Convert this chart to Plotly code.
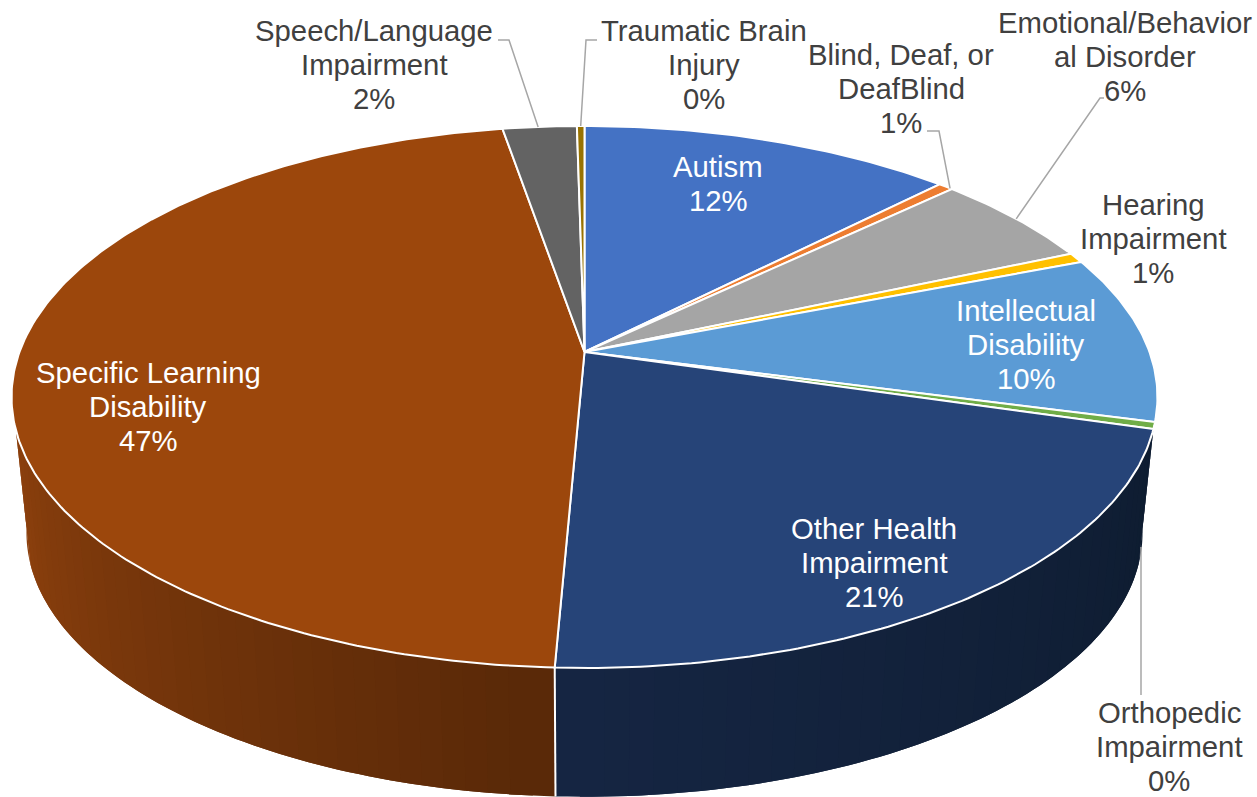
import numpy as np
import plotly.graph_objects as go

# ---- data (percent of total, clockwise from 12 o'clock)
categories = ["Autism", "Blind, Deaf, or DeafBlind", "Emotional/Behavioral Disorder",
              "Hearing Impairment", "Intellectual Disability", "Orthopedic Impairment",
              "Other Health Impairment", "Specific Learning Disability",
              "Speech/Language Impairment", "Traumatic Brain Injury"]
values = [12.4, 0.5, 5.6, 0.6, 10.0, 0.4, 21.2, 46.6, 2.45, 0.25]
pct_labels = ["12%", "1%", "6%", "1%", "10%", "0%", "21%", "47%", "2%", "0%"]
label_lines = [["Autism"], ["Blind, Deaf, or", "DeafBlind"], ["Emotional/Behavior", "al Disorder"],
               ["Hearing", "Impairment"], ["Intellectual", "Disability"], ["Orthopedic", "Impairment"],
               ["Other Health", "Impairment"], ["Specific Learning", "Disability"],
               ["Speech/Language", "Impairment"], ["Traumatic Brain", "Injury"]]
colors = ["#4472C4", "#ED7D31", "#A5A5A5", "#FFC000", "#5B9BD5", "#70AD47",
          "#264478", "#9C470C", "#636363", "#997300"]
# label placement (pixel centre of each text block, colour)
label_pos = [(718, 183), (901, 88), (1125, 56), (1153, 238), (1026, 344),
             (1169, 746), (874, 562), (148, 406), (374, 64.5), (704, 64.5)]
label_white = [True, False, False, False, True, False, True, True, False, False]
LINE_STEP = 34
FONT_SIZE = 29.3

# ---- projection of the tilted pie
CX, CY, KX, KY, P = 584.5, 352.0, 565.0, 263.5, 0.166
LOW_F, LOW_DY = 0.974, 137.0


def top(theta):
    u, v = np.sin(theta), np.cos(theta)
    d = 1 + P * v
    return CX + KX * u / d, CY - KY * v / d


def low(theta):
    x, y = top(theta)
    return CX + LOW_F * (x - CX), CY + LOW_DY + LOW_F * (y - CY)


def mix(c1, c2, t):
    a = np.array(c1, float)
    b = np.array(c2, float)
    r = a + (b - a) * t
    return "rgb(%d,%d,%d)" % tuple(np.round(r))


edges = np.cumsum([0] + values) / sum(values) * 2 * np.pi
fig = go.Figure()


def poly(x, y, fill, line=None, width=0):
    fig.add_trace(go.Scatter(x=list(x), y=list(y), mode="lines" if line else "none", fill="toself",
                             fillcolor=fill, line=dict(color=line or fill, width=width),
                             hoverinfo="skip", showlegend=False))


# ---- side wall, drawn as overlapping shaded strips running away from the seam
seam = edges[7]
BLUE_NEAR, BLUE_FAR = (21, 37, 66), (14, 28, 48)
BROWN_NEAR, BROWN_FAR = (90, 41, 8), (140, 64, 13)

# end wedges that close the silhouette of the wall
th = np.radians(np.linspace(98, 106.4, 12))
lx, ly = low(th)
tx, ty = top(edges[6])
poly([tx] + list(lx) + [tx], [ty] + list(ly) + [ty], mix(BLUE_NEAR, BLUE_FAR, 1))
th = np.radians(np.linspace(253.6, 262, 12))
lx, ly = low(th)
tx, ty = top(np.radians(253.6))
poly([tx] + list(lx) + [tx], [ty] + list(ly) + [ty], mix(BROWN_NEAR, BROWN_FAR, 1))

for start, end, near, far, n in [(seam, edges[6], BLUE_NEAR, BLUE_FAR, 36),
                                 (seam, np.radians(253.6), BROWN_NEAR, BROWN_FAR, 36)]:
    grid = np.linspace(start, end, n + 1)
    # far strips first so each nearer strip laps over its neighbour
    for i in range(n - 1, -1, -1):
        a = grid[i]
        b = grid[min(i + 2, n)]
        arc = np.linspace(a, b, 5)
        tx, ty = top(arc)
        lx, ly = low(arc[::-1])
        c = mix(near, far, i / (n - 1))
        poly(list(tx) + list(lx) + [tx[0]], list(ty) + list(ly) + [ty[0]], c)

# white seam between the two visible wall segments
fig.add_trace(go.Scatter(x=[top(seam)[0], low(seam)[0]], y=[top(seam)[1], low(seam)[1]],
                         mode="lines", line=dict(color="white", width=2),
                         hoverinfo="skip", showlegend=False))

# ---- top face
for i, col in enumerate(colors):
    th = np.linspace(edges[i], edges[i + 1], max(3, int(values[i] * 5)))
    x, y = top(th)
    poly([CX] + list(x) + [CX], [CY] + list(y) + [CY], col, "white", 2)

# ---- leader lines (elbow position + a point on the rim of the slice)
leaders = [(1, 0.85, [(927, 131), (939, 131)]),
           (2, 0.5, [(1104, 98), (1100, 98)]),
           (8, 0.48, [(498, 40), (509, 40)]),
           (9, 0.5, [(597, 40), (586, 40)])]
for idx, frac, elbow in leaders:
    ex, ey = top(edges[idx] + frac * (edges[idx + 1] - edges[idx]))
    fig.add_trace(go.Scatter(x=[p[0] for p in elbow] + [ex], y=[p[1] for p in elbow] + [ey],
                             mode="lines", line=dict(color="#A6A6A6", width=1.5),
                             hoverinfo="skip", showlegend=False))
fig.add_trace(go.Scatter(x=[1141, 1141], y=[547, 695], mode="lines",
                         line=dict(color="#A6A6A6", width=1.5),
                         hoverinfo="skip", showlegend=False))

# ---- labels
for lines, pct, pos, white in zip(label_lines, pct_labels, label_pos, label_white):
    rows = lines + [pct]
    for j, row in enumerate(rows):
        fig.add_annotation(x=pos[0], y=pos[1] + (j - (len(rows) - 1) / 2) * LINE_STEP, text=row,
                           showarrow=False, xanchor="center", yanchor="middle",
                           font=dict(family="Liberation Sans, Arial, sans-serif", size=FONT_SIZE,
                                     color="white" if white else "#404040"))

fig.update_xaxes(range=[0, 1257], visible=False, fixedrange=True)
fig.update_yaxes(range=[797, 0], visible=False, fixedrange=True)
fig.update_layout(width=1257, height=797, margin=dict(l=0, r=0, t=0, b=0),
                  paper_bgcolor="white", plot_bgcolor="white", showlegend=False)
fig.write_html("out.html", config=dict(displayModeBar=False),
               post_script="document.body.style.margin='0';document.body.style.overflow='hidden';")
